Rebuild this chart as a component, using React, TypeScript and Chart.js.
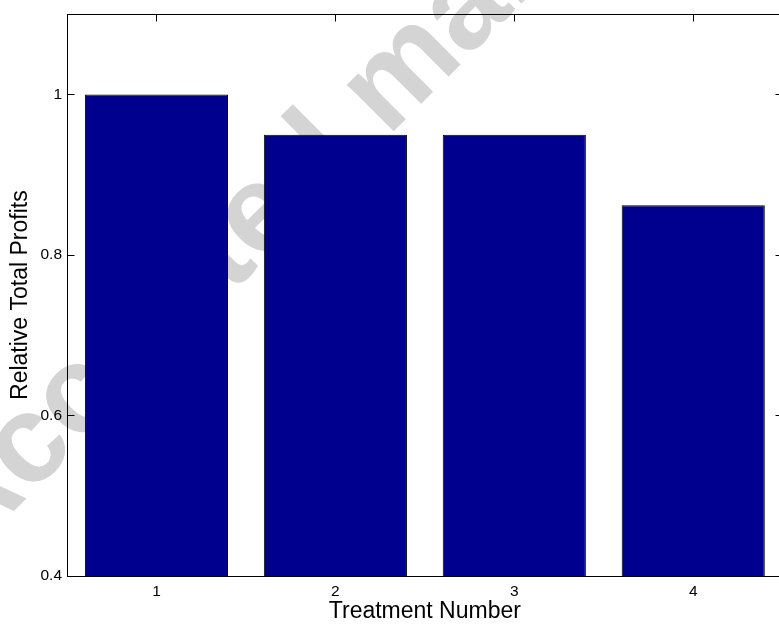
import React, { useEffect, useRef } from 'react';
import { Chart, registerables } from 'chart.js';

Chart.register(...registerables);

// Bar chart data
const treatments = ['1', '2', '3', '4'];
const relativeProfits = [1.0, 0.95, 0.95, 0.862];
const profitTicks = [0.4, 0.6, 0.8, 1];
const yMin = 0.4;
const yMax = 1.1;

const xTitle = 'Treatment Number';
const yTitle = 'Relative Total Profits';
const stampText = 'Accepted manuscript';

const FONT = '"Liberation Sans", Arial, Helvetica, sans-serif';
const BAR_BLUE = '#00008f';
const TICK_LEN = 7;

// Large faint diagonal stamp painted behind everything
const stampPlugin = {
  id: 'stamp',
  beforeDraw(chart: any) {
    const { ctx } = chart;
    ctx.save();
    ctx.translate(-35, 560);
    ctx.rotate(-Math.PI / 4);
    ctx.font = `bold 125px ${FONT}`;
    ctx.fillStyle = '#d4d4d4';
    ctx.textAlign = 'left';
    ctx.textBaseline = 'alphabetic';
    ctx.fillText(stampText, 0, 0);
    ctx.restore();
  },
};

// Boxed axes with inward tick marks on all four sides
const framePlugin = {
  id: 'frame',
  beforeDatasetsDraw(chart: any) {
    const { ctx, chartArea: a, scales } = chart;
    const x = scales.x;
    const y = scales.y;
    const left = Math.floor(a.left) + 0.5;
    const right = Math.floor(a.right) + 0.5;
    const top = Math.floor(a.top) + 0.5;
    const bottom = Math.floor(a.bottom) + 0.5;
    ctx.save();
    ctx.strokeStyle = '#000';
    ctx.lineWidth = 1;
    ctx.beginPath();
    profitTicks.forEach((v) => {
      const py = Math.floor(y.getPixelForValue(v)) + 0.5;
      ctx.moveTo(left, py);
      ctx.lineTo(left + TICK_LEN, py);
      ctx.moveTo(right, py);
      ctx.lineTo(right - TICK_LEN, py);
    });
    treatments.forEach((_, i) => {
      const px = Math.floor(x.getPixelForValue(i)) + 0.5;
      ctx.moveTo(px, top);
      ctx.lineTo(px, top + TICK_LEN);
      ctx.moveTo(px, bottom);
      ctx.lineTo(px, bottom - TICK_LEN);
    });
    ctx.stroke();
    ctx.strokeRect(left, top, right - left, bottom - top);
    ctx.restore();
  },
};

export default function App() {
  const canvasRef = useRef<HTMLCanvasElement>(null);

  useEffect(() => {
    const canvas = canvasRef.current;
    if (!canvas) return;
    const chart = new Chart(canvas, {
      type: 'bar',
      data: {
        labels: treatments,
        datasets: [
          {
            data: relativeProfits,
            backgroundColor: BAR_BLUE,
            borderColor: '#000',
            borderWidth: 1,
            borderSkipped: false,
            barPercentage: 0.8,
            categoryPercentage: 1,
          },
        ],
      },
      options: {
        responsive: false,
        animation: false,
        devicePixelRatio: 1,
        layout: { padding: { top: 12.5, right: 17.3, left: 0, bottom: 0 } },
        plugins: {
          legend: { display: false },
          tooltip: { enabled: false },
        },
        scales: {
          x: {
            type: 'category',
            offset: true,
            grid: { display: false, drawTicks: false },
            border: { display: false },
            ticks: {
              color: '#000',
              padding: 6,
              maxRotation: 0,
              autoSkip: false,
              font: { family: FONT, size: 15.5 },
            },
            title: {
              display: true,
              text: xTitle,
              color: '#000',
              padding: { top: -2.6, bottom: 0 },
              font: { family: FONT, size: 23 },
            },
            afterFit(scale: any) {
              scale.height = 49;
            },
          },
          y: {
            type: 'linear',
            min: yMin,
            max: yMax,
            afterBuildTicks(scale: any) {
              scale.ticks = profitTicks.map((v) => ({ value: v }));
            },
            grid: { display: false, drawTicks: false },
            border: { display: false },
            ticks: {
              color: '#000',
              padding: 5,
              font: { family: FONT, size: 15.5 },
              callback: (v: any) => String(v),
            },
            title: {
              display: true,
              text: yTitle,
              color: '#000',
              padding: { top: 7, bottom: 0 },
              font: { family: FONT, size: 23 },
            },
            afterFit(scale: any) {
              scale.width = 67;
            },
          },
        },
      },
      plugins: [stampPlugin, framePlugin],
    });
    return () => chart.destroy();
  }, []);

  return (
    <div
      style={{
        position: 'fixed',
        left: 0,
        top: 0,
        width: 779,
        height: 625,
        overflow: 'hidden',
        background: '#fff',
      }}
    >
      <canvas
        ref={canvasRef}
        width={800}
        height={625}
        style={{ display: 'block', width: 800, height: 625 }}
      />
    </div>
  );
}
